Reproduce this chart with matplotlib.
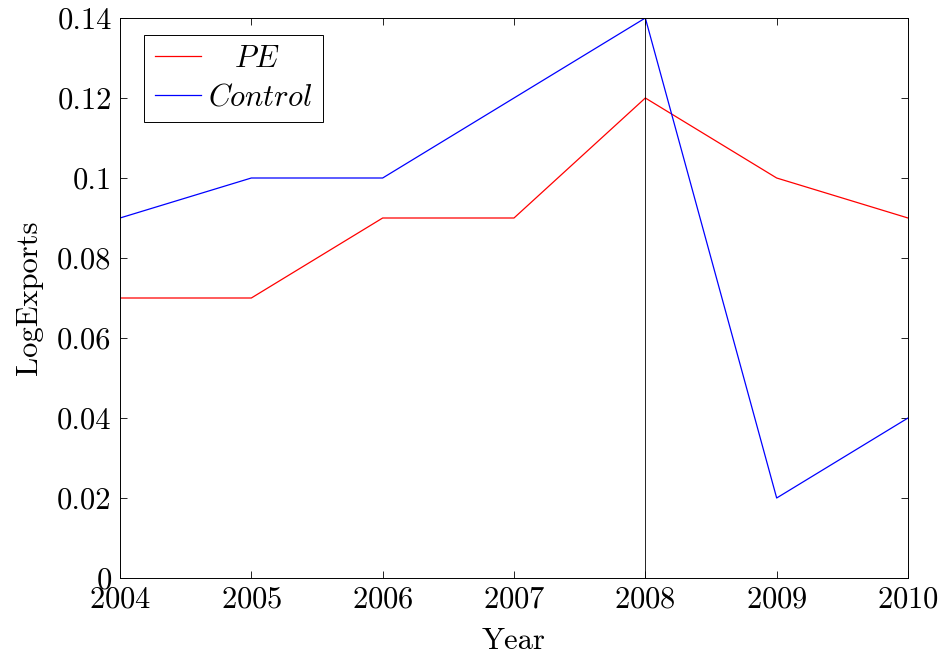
import matplotlib
matplotlib.use("Agg")
import matplotlib.pyplot as plt
from matplotlib.ticker import FuncFormatter

years = [2004, 2005, 2006, 2007, 2008, 2009, 2010]
pe = [0.07, 0.07, 0.09, 0.09, 0.12, 0.10, 0.09]
control = [0.09, 0.10, 0.10, 0.12, 0.14, 0.02, 0.04]
yticks = [0, 0.02, 0.04, 0.06, 0.08, 0.1, 0.12, 0.14]
event_year = 2008

plt.rcParams['font.family'] = 'serif'
plt.rcParams['font.serif'] = ['cmr10', 'DejaVu Serif']
plt.rcParams['mathtext.fontset'] = 'cm'
plt.rcParams['axes.formatter.use_mathtext'] = True
fs = 22

fig = plt.figure(figsize=(9.44, 6.61), dpi=100)
ax = fig.add_axes([120 / 944, 1 - 578 / 661, 788 / 944, 560 / 661])

ax.plot(years, pe, color='red', lw=0.9, label=r'$\ \ \ PE$')
ax.plot(years, control, color='blue', lw=0.9, label='$Control$')
ax.axvline(event_year, color='black', lw=0.6)

ax.set_xlim(2004, 2010)
ax.set_ylim(0, 0.14)
ax.set_xticks(years)
ax.set_yticks(yticks)
ax.yaxis.set_major_formatter(FuncFormatter(lambda v, p: f"{v:g}"))
ax.tick_params(direction='in', top=True, right=True, length=5, width=0.6,
               labelsize=fs, pad=6)
for s in ax.spines.values():
    s.set_linewidth(0.7)

ax.set_xlabel('Year', fontsize=fs, labelpad=10)
ax.set_ylabel('LogExports', fontsize=fs, labelpad=10)

leg = ax.legend(loc='upper left', bbox_to_anchor=(24 / 788, 1 - 17 / 560),
                fontsize=fs, frameon=True, fancybox=False,
                edgecolor='black', framealpha=1, borderaxespad=0,
                handlelength=1.5, handletextpad=0.25, borderpad=0.35, labelspacing=0.35)
leg.get_frame().set_linewidth(0.7)

fig.savefig('out.png', dpi=100)
